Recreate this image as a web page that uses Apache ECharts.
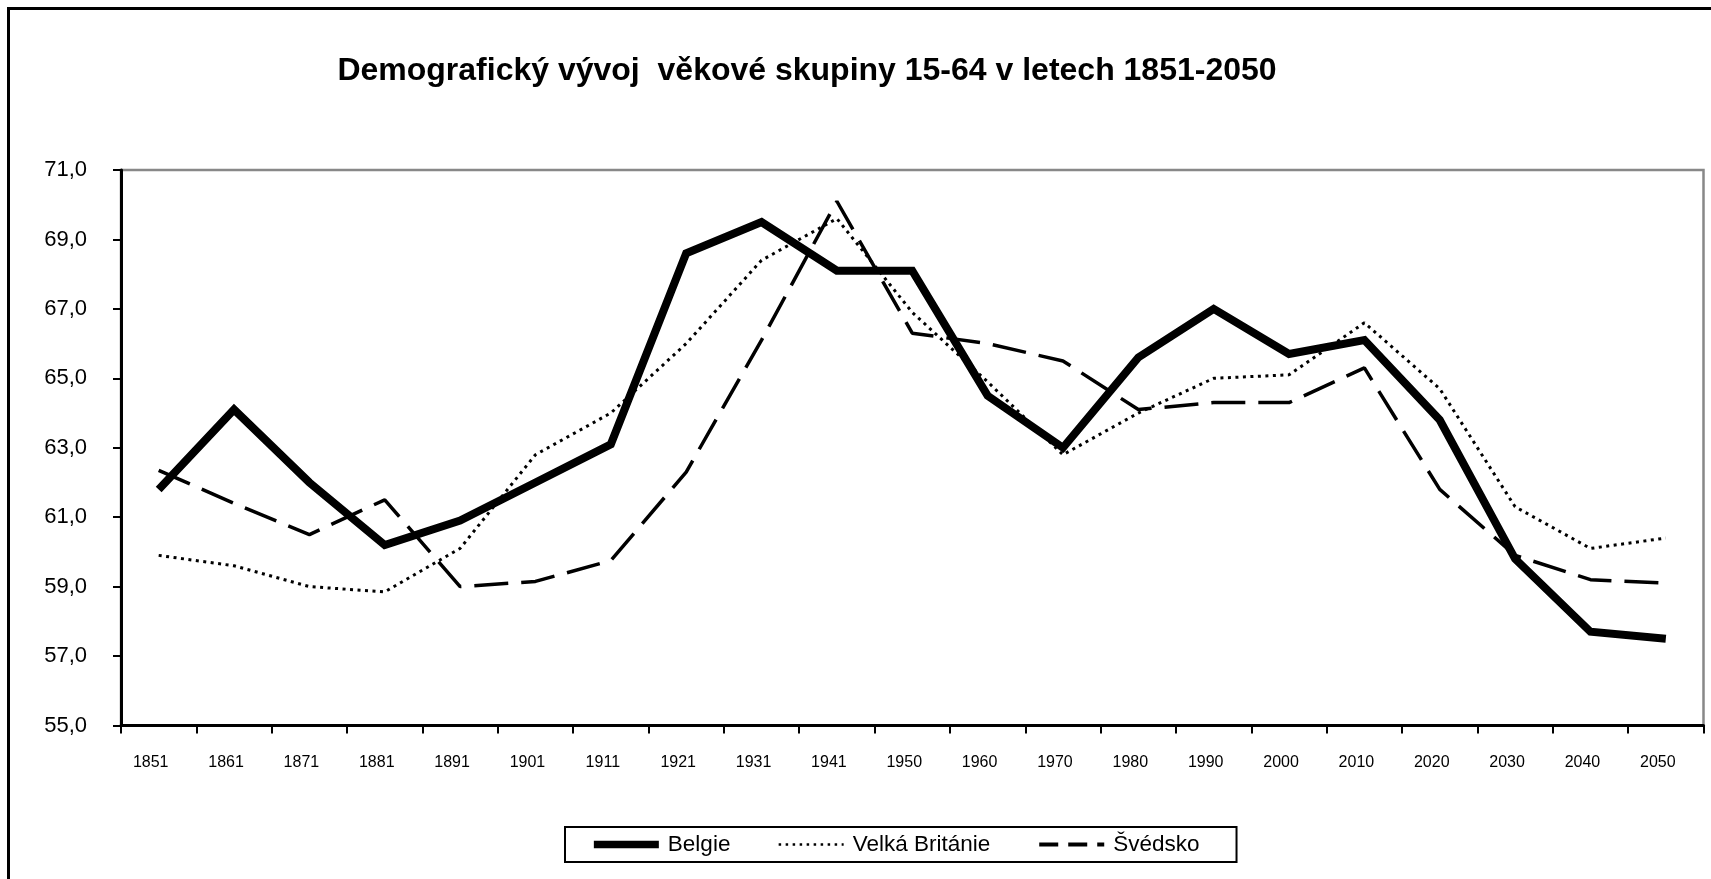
<!DOCTYPE html>
<html>
<head>
<meta charset="utf-8">
<script src="https://cdn.jsdelivr.net/npm/echarts@6/dist/echarts.min.js"></script>
<style>
html,body{margin:0;padding:0;background:#fff;}
#c{width:1711px;height:879px;}
</style>
</head>
<body>
<div id="c"></div>
<script>
const titleText = 'Demografický vývoj  věkové skupiny 15-64 v letech 1851-2050';
const categories = ['1851','1861','1871','1881','1891','1901','1911','1921','1931','1941','1950','1960','1970','1980','1990','2000','2010','2020','2030','2040','2050'];
const belgie = [61.8,64.1,62.0,60.2,60.9,62.0,63.1,68.6,69.5,68.1,68.1,64.5,63.0,65.6,67.0,65.7,66.1,63.8,59.8,57.7,57.5];
const velkaBritanie = [59.9,59.6,59.0,58.85,60.1,62.8,64.0,66.0,68.4,69.6,66.9,64.9,62.8,64.0,65.0,65.1,66.6,64.7,61.3,60.1,60.4];
const svedsko = [62.35,61.4,60.5,61.5,59.0,59.15,59.75,62.3,66.1,70.1,66.3,66.0,65.5,64.1,64.3,64.3,65.3,61.8,59.9,59.2,59.1];
const seriesNames = ['Belgie','Velká Británie','Švédsko'];
const yMin = 55, yMax = 71, yStep = 2;

const chart = echarts.init(document.getElementById('c'), null, {renderer:'canvas'});
const FONT = '"Liberation Sans", Arial, sans-serif';
const hideSym = {opacity:0, color:'#000'};
chart.setOption({
  backgroundColor:'#fff',
  animation:false,
  title:{
    text:titleText,
    left:802, top:50, textAlign:'center',
    textStyle:{fontFamily:FONT,fontWeight:'bold',fontSize:32,color:'#000'}
  },
  graphic:[{
    type:'rect', z:100, silent:true,
    shape:{x:8.5,y:8.5,width:1720,height:900},
    style:{fill:'none',stroke:'#000',lineWidth:3}
  }],
  legend:{
    data:[
      {name:seriesNames[0], itemStyle:hideSym, lineStyle:{color:'#000',width:7.7,type:'solid'}},
      {name:seriesNames[1], itemStyle:hideSym, lineStyle:{color:'#000',width:2.5,type:[2.5,4.5]}},
      {name:seriesNames[2], itemStyle:hideSym, lineStyle:{color:'#000',width:4,type:[19,10]}}
    ],
    itemStyle:{opacity:0},
    left:565, top:827,
    padding:[6,37,6,25],
    itemGap:47, itemWidth:65, itemHeight:14,
    borderColor:'#000', borderWidth:2,
    textStyle:{fontFamily:FONT,fontSize:22.5,color:'#000',padding:[0,0,0,4]}
  },
  grid:{
    left:121, right:7.5, top:170, bottom:153.5,
    show:true, borderColor:'#888', borderWidth:2.5, backgroundColor:'#fff'
  },
  xAxis:{
    type:'category', data:categories, boundaryGap:true,
    axisLine:{lineStyle:{color:'#000',width:3}},
    axisTick:{show:true,length:8,lineStyle:{color:'#000',width:2}},
    axisLabel:{interval:0,margin:29,fontFamily:FONT,fontSize:16,color:'#000',padding:[0,16,0,0]},
    splitLine:{show:false}
  },
  yAxis:{
    type:'value', min:yMin, max:yMax, interval:yStep,
    axisLine:{show:true,lineStyle:{color:'#000',width:3}},
    axisTick:{show:true,length:8,lineStyle:{color:'#000',width:2}},
    axisLabel:{margin:34,fontFamily:FONT,fontSize:22,color:'#000',
      formatter:v=>v.toFixed(1).replace('.',',')},
    splitLine:{show:false}
  },
  series:[
    {name:seriesNames[0],type:'line',data:belgie,symbol:'none',
      lineStyle:{color:'#000',width:8,join:'miter'},itemStyle:{color:'#000'},z:3},
    {name:seriesNames[1],type:'line',data:velkaBritanie,symbol:'none',
      lineStyle:{color:'#000',width:3,type:[3,4.5]},itemStyle:{color:'#000'},z:2},
    {name:seriesNames[2],type:'line',data:svedsko,symbol:'none',
      lineStyle:{color:'#000',width:3.5,type:[34,13]},itemStyle:{color:'#000'},z:2}
  ]
});
</script>
</body>
</html>
